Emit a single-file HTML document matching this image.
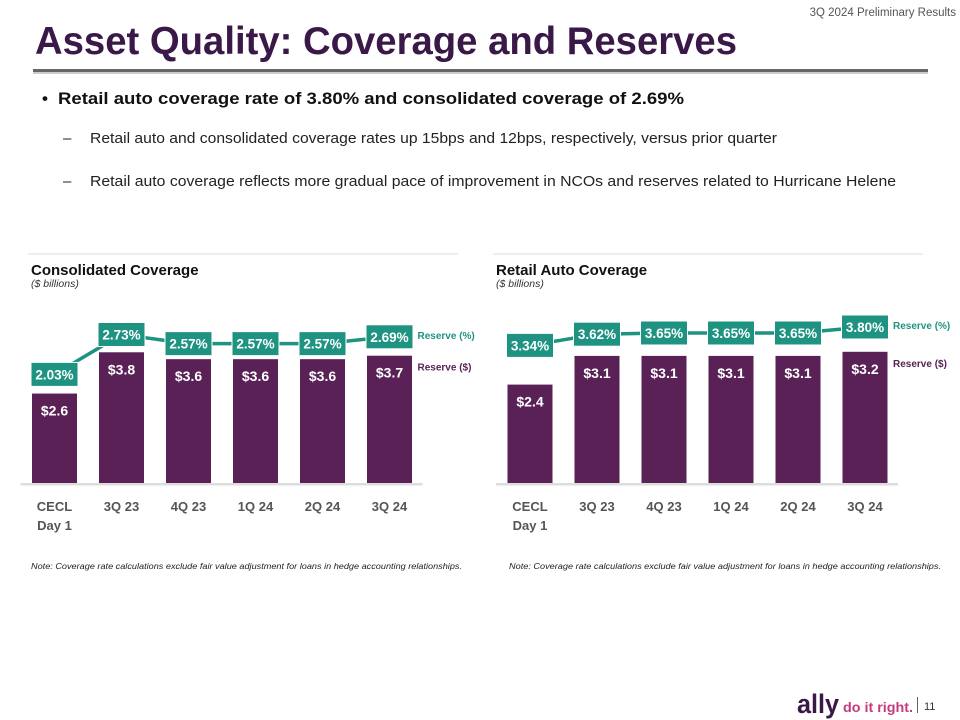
<!DOCTYPE html>
<html><head><meta charset="utf-8"><style>
body{margin:0;width:960px;height:720px;overflow:hidden;background:#fff;font-family:"Liberation Sans",sans-serif}
svg{display:block}
</style></head><body>
<svg id="s" width="960" height="720" viewBox="0 0 960 720" xmlns="http://www.w3.org/2000/svg" font-family="Liberation Sans, sans-serif">
<text x="956" y="16" font-size="11.5" fill="#555" text-anchor="end">3Q 2024 Preliminary Results</text>
<text x="35" y="54" font-size="39" font-weight="bold" fill="#3a1848" textLength="702" lengthAdjust="spacingAndGlyphs">Asset Quality: Coverage and Reserves</text>
<rect x="33" y="69" width="895" height="3" fill="#666"/>
<rect x="33" y="72" width="895" height="2" fill="#ccc"/>
<text x="42" y="104" font-size="17" font-weight="bold" fill="#111">•</text>
<text x="58" y="104" font-size="17" font-weight="bold" fill="#111" textLength="626" lengthAdjust="spacingAndGlyphs">Retail auto coverage rate of 3.80% and consolidated coverage of 2.69%</text>
<text x="63" y="143" font-size="15" fill="#222">–</text>
<text x="90" y="143" font-size="15" fill="#222" textLength="687" lengthAdjust="spacingAndGlyphs">Retail auto and consolidated coverage rates up 15bps and 12bps, respectively, versus prior quarter</text>
<text x="63" y="186" font-size="15" fill="#222">–</text>
<text x="90" y="186" font-size="15" fill="#222" textLength="806" lengthAdjust="spacingAndGlyphs">Retail auto coverage reflects more gradual pace of improvement in NCOs and reserves related to Hurricane Helene</text>
<g id="charts"></g>
<text x="31" y="569" font-size="8" font-style="italic" fill="#222" textLength="431" lengthAdjust="spacingAndGlyphs">Note: Coverage rate calculations exclude fair value adjustment for loans in hedge accounting relationships.</text>
<text x="509" y="569" font-size="8" font-style="italic" fill="#222" textLength="432" lengthAdjust="spacingAndGlyphs">Note: Coverage rate calculations exclude fair value adjustment for loans in hedge accounting relationships.</text>
<text x="797" y="713" font-size="27" font-weight="bold" fill="#3a1848" textLength="42" lengthAdjust="spacingAndGlyphs">ally</text>
<text x="843" y="712" font-size="14" font-weight="bold" fill="#c43a7e" textLength="70" lengthAdjust="spacingAndGlyphs">do it right.</text>
<rect x="917" y="697" width="1" height="16" fill="#666"/>
<text x="924" y="710" font-size="11" fill="#333">11</text>
</svg>
<script>
const categories=["CECL|Day 1","3Q 23","4Q 23","1Q 24","2Q 24","3Q 24"];
const consReserve=[2.6,3.8,3.6,3.6,3.6,3.7];
const consReserveLabels=["$2.6","$3.8","$3.6","$3.6","$3.6","$3.7"];
const consPct=[2.03,2.73,2.57,2.57,2.57,2.69];
const retailReserve=[2.4,3.1,3.1,3.1,3.1,3.2];
const retailReserveLabels=["$2.4","$3.1","$3.1","$3.1","$3.1","$3.2"];
const retailPct=[3.34,3.62,3.65,3.65,3.65,3.80];

const NS="http://www.w3.org/2000/svg";
const root=document.getElementById('charts');
function mk(tag,attrs,parent,text){const e=document.createElementNS(NS,tag);for(const k in attrs)e.setAttribute(k,attrs[k]);if(text!==undefined)e.textContent=text;(parent||root).appendChild(e);return e;}

function chart(cfg){
  const g=mk('g',{});
  
  
  const sep=mk('rect',{x:cfg.x0-3,y:253,width:430,height:2,fill:'#eee'},g);
  
  
  const t=mk('text',{x:cfg.x0,y:275,'font-size':15,'font-weight':'bold',fill:'#111'},g,cfg.title);
  
  
  const st=mk('text',{x:cfg.x0,y:287,'font-size':10.5,'font-style':'italic',fill:'#333'},g,'($ billions)');
  
  
  const base=483;
  const xc=i=>cfg.c0+i*67;
  const yb=v=>base-v*cfg.k;
  const yp=p=>cfg.pRefY-(p-cfg.pRef)*cfg.pk;
  const ax=mk('rect',{x:cfg.c0-34,y:base,width:402,height:2.5,fill:'#ddd'},g);
  
  
  cfg.res.forEach((v,i)=>{
    const r=mk('rect',{x:xc(i)-22.5,y:yb(v),width:45,height:base-yb(v),fill:'#5a2157'},g);
    
    
    const l=mk('text',{x:xc(i),y:yb(v)+22,'font-size':14,'font-weight':'bold',fill:'#fff','text-anchor':'middle'},g,cfg.resL[i]);
    
    
    const cat=categories[i].split('|');
    cat.forEach((c,j)=>{
      const tx=mk('text',{x:xc(i),y:511+j*19,'font-size':13,'font-weight':'bold',fill:'#555','text-anchor':'middle'},g,c);
      
      
    });
  });
  const pts=cfg.pct.map((p,i)=>xc(i)+','+yp(p)).join(' ');
  const line=mk('polyline',{points:pts,fill:'none',stroke:'#1f9381','stroke-width':3.5},g);
  
  
  cfg.pct.forEach((p,i)=>{
    const w=47,h=24;
    const b=mk('rect',{x:xc(i)-w/2,y:yp(p)-h/2,width:w,height:h,fill:'#1f9381',stroke:'#fff','stroke-width':1},g);
    
    
    const tx=mk('text',{x:xc(i),y:yp(p)+5,'font-size':13.5,'font-weight':'bold',fill:'#fff','text-anchor':'middle'},g,p.toFixed(2)+'%');
    
    
  });
  const last=cfg.pct.length-1;
  const lp=mk('text',{x:xc(last)+28,y:yp(cfg.pct[last])+2,'font-size':10,'font-weight':'bold',fill:'#1f9381'},g,'Reserve (%)');
  
  
  const ld=mk('text',{x:xc(last)+28,y:yb(cfg.res[last])+15,'font-size':10,'font-weight':'bold',fill:'#5a2157'},g,'Reserve ($)');
  
  
}
chart({name:'consolidated-coverage-chart',title:'Consolidated Coverage',x0:31,c0:54.5,k:34.4,pRef:2.73,pRefY:334.5,pk:57,res:consReserve,resL:consReserveLabels,pct:consPct});
chart({name:'retail-auto-coverage-chart',title:'Retail Auto Coverage',x0:496,c0:530,k:41,pRef:3.80,pRefY:327,pk:40,res:retailReserve,resL:retailReserveLabels,pct:retailPct});
</script>
</body></html>
